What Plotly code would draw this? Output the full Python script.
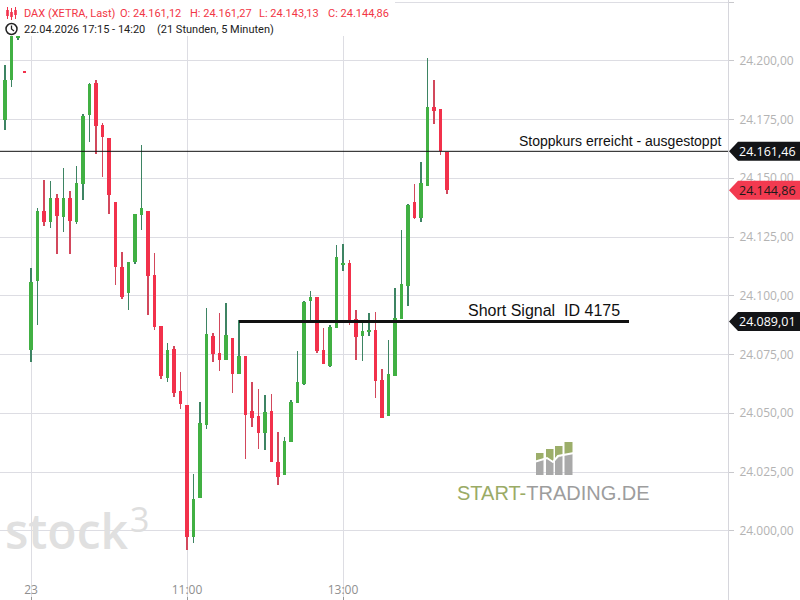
import plotly.graph_objects as go

# ---------------- data ----------------
times = ["17:15", "17:20", "17:25", "17:30"] + [
    f"{h:02d}:{m:02d}" for h in range(9, 15) for m in range(0, 60, 5)
    if (h, m) <= (14, 20)
]

opens = [24174.8, 24191.8, 24209.7, 24195.4,
         24076.9, 24106.3, 24136.1, 24131.4, 24141.6, 24133.5, 24141.6, 24131.4, 24147.6, 24176.9,
         24190.5, 24172.7, 24167.1, 24139.9, 24112.2, 24101.2, 24114.4, 24134.4, 24136.1, 24108.8,
         24087.1, 24065.0, 24077.3, 24059.5, 24053.5, 23997.3, 24013.9, 24045.0, 24082.9, 24075.6,
         24072.7, 24082.0, 24066.7, 24074.4, 24051.0, 24048.8, 24041.6, 24051.0, 24029.3, 24023.7,
         24037.8, 24054.4, 24062.5, 24097.8, 24099.5, 24076.9, 24070.1, 24086.3, 24113.3, 24113.9,
         24090.1, 24082.9, 24084.6, 24085.4, 24064.2, 24048.8, 24065.9, 24090.1, 24104.2, 24139.9,
         24133.1, 24146.7, 24180.3, 24179.5, 24161.12]
highs = [24198.2, 24218.2, 24219.9, 24195.4,
         24111.8, 24137.3, 24149.3, 24148.8, 24143.3, 24154.4, 24144.6, 24155.2, 24177.3, 24190.5,
         24191.8, 24173.5, 24167.1, 24139.9, 24118.6, 24114.4, 24134.8, 24164.2, 24136.1, 24118.2,
         24087.1, 24079.9, 24078.6, 24067.6, 24053.5, 24024.2, 24054.8, 24094.8, 24084.2, 24092.7,
         24096.9, 24082.0, 24089.7, 24074.4, 24063.3, 24060.3, 24057.8, 24058.2, 24042.0, 24039.9,
         24055.6, 24076.5, 24097.8, 24102.0, 24099.5, 24086.3, 24087.6, 24121.6, 24122.0, 24115.2,
         24093.9, 24088.4, 24092.7, 24093.1, 24068.8, 24081.2, 24103.3, 24128.0, 24139.0, 24147.6,
         24156.9, 24201.2, 24191.8, 24179.5, 24161.27]
lows = [24170.5, 24188.8, 24208.8, 24195.0,
        24071.8, 24087.6, 24129.7, 24128.8, 24117.8, 24127.1, 24117.8, 24130.5, 24140.7, 24165.4,
        24160.3, 24150.5, 24134.8, 24104.6, 24098.6, 24093.9, 24113.5, 24128.0, 24091.8, 24085.4,
        24064.6, 24063.3, 24056.9, 24051.8, 23991.8, 23994.8, 24013.9, 24043.3, 24071.8, 24068.0,
        24072.7, 24058.6, 24066.7, 24030.5, 24044.2, 24034.8, 24034.4, 24029.3, 24019.5, 24023.7,
        24037.8, 24054.4, 24062.0, 24089.7, 24075.6, 24071.0, 24069.7, 24086.3, 24110.5, 24087.6,
        24072.7, 24072.2, 24082.9, 24056.5, 24048.0, 24048.8, 24065.9, 24090.1, 24095.6, 24132.7,
        24131.4, 24146.7, 24173.1, 24159.9, 24143.13]
closes = [24191.8, 24215.2, 24216.5, 24195.0,
          24105.9, 24136.1, 24131.4, 24141.6, 24133.9, 24141.6, 24131.8, 24148.0, 24176.5, 24190.1,
          24172.2, 24167.6, 24142.9, 24112.2, 24099.5, 24114.4, 24134.8, 24137.3, 24108.4, 24086.7,
          24065.9, 24076.9, 24058.6, 24053.9, 23997.3, 24013.5, 24045.9, 24083.7, 24075.2, 24072.7,
          24083.3, 24066.7, 24074.4, 24049.3, 24048.0, 24041.6, 24050.5, 24029.3, 24022.9, 24038.2,
          24054.8, 24063.3, 24097.3, 24099.5, 24076.5, 24071.0, 24086.7, 24116.5, 24113.7, 24089.7,
          24082.5, 24085.0, 24085.4, 24063.7, 24048.0, 24066.7, 24090.5, 24105.0, 24138.6, 24133.1,
          24148.0, 24180.3, 24178.6, 24161.6, 24144.86]

tick_times = ["09:00", "11:00", "13:00"]
tick_text = ["23", "11:00", "13:00"]

stop_price = 24161.46
stop_text = "Stoppkurs erreicht - ausgestoppt"
signal_price = 24089.01
signal_start = "11:40"
signal_end = "16:40"   # beyond last bar (future slots)
signal_text = "Short Signal\u00a0 ID 4175"
last_price = 24144.86

header_items = ["DAX (XETRA, Last)", "O: 24.161,12", "H: 24.161,27", "L: 24.143,13", "C: 24.144,86"]
header_line2 = ["22.04.2026 17:15 - 14:20", "(21 Stunden, 5 Minuten)"]

# ---------------- styling ----------------
GREEN = "#41b043"
RED = "#f2314b"
GREEN_WICK = "#3d8463"
RED_WICK = "#d2485c"
GRID = "#dddde3"

PW, PH = 728, 600


def X(p):
    return p / PW


def Y(p):
    return 1 - p / PH


n = len(times)
xi = list(range(n))


def slot(t):
    if t in times:
        return times.index(t)
    h, m = map(int, t.split(":"))
    return times.index("14:20") + ((h * 60 + m) - (14 * 60 + 20)) // 5


up = [i for i in xi if closes[i] >= opens[i]]
dn = [i for i in xi if closes[i] < opens[i]]

fig = go.Figure()


def add_wicks(sel, color):
    fig.add_trace(go.Bar(
        x=sel, base=[lows[i] for i in sel], y=[highs[i] - lows[i] for i in sel],
        width=0.16, marker=dict(color=color, line=dict(width=0)), hoverinfo="skip"))


def add_bodies(sel, color):
    fig.add_trace(go.Bar(
        x=sel, base=[min(opens[i], closes[i]) for i in sel],
        y=[max(abs(closes[i] - opens[i]), 0.45) for i in sel],
        width=0.6, marker=dict(color=color, line=dict(width=0)), hoverinfo="skip"))


add_wicks(up, GREEN_WICK)
add_wicks(dn, RED_WICK)
add_bodies(up, GREEN)
add_bodies(dn, RED)

shapes = []
annotations = []

# stop line & signal line
shapes.append(dict(type="line", xref="paper", yref="y", x0=0, x1=1, y0=stop_price, y1=stop_price,
                   line=dict(color="#111111", width=1), layer="above"))
shapes.append(dict(type="line", xref="x", yref="y", x0=slot(signal_start), x1=slot(signal_end),
                   y0=signal_price, y1=signal_price, line=dict(color="#111111", width=3), layer="above"))
annotations.append(dict(xref="paper", yref="y", x=X(723), y=stop_price, text=stop_text, showarrow=False,
                        xanchor="right", yanchor="bottom", yshift=0,
                        font=dict(family="Liberation Sans", size=14, color="#111111")))
annotations.append(dict(xref="paper", yref="y", x=X(622), y=signal_price, text=signal_text, showarrow=False,
                        xanchor="right", yanchor="bottom", yshift=1,
                        font=dict(family="Liberation Sans", size=16, color="#111111")))

# price labels on right axis
half = 9.5 / 2.35


def price_label(price, fill, tcolor):
    tip, left, right = X(729), X(738), X(800)
    path = (f"M {tip},{price} L {left},{price + half} L {right},{price + half} "
            f"L {right},{price - half} L {left},{price - half} Z")
    shapes.append(dict(type="path", xref="paper", yref="y", path=path, fillcolor=fill,
                       line=dict(width=0), layer="above"))
    txt = f"{price:,.2f}".replace(",", "X").replace(".", ",").replace("X", ".")
    annotations.append(dict(xref="paper", yref="y", x=X(767), y=price, text=txt, showarrow=False,
                            xanchor="center", yanchor="middle",
                            font=dict(family="Open Sans", size=12.5, color=tcolor)))


price_label(stop_price, "#131417", "#ffffff")
price_label(last_price, "#f23a50", "#1a1a1a")
price_label(signal_price, "#131417", "#ffffff")

# header background
shapes.append(dict(type="rect", xref="paper", yref="paper", x0=0, x1=X(395), y0=Y(36), y1=Y(-2),
                   fillcolor="#ffffff", line=dict(width=0), layer="above"))
# candle icon
for cx, wt, wb, bt, bb in [(7.5, 7, 19, 10, 16), (11.5, 8, 20, 12, 17), (15.5, 7, 19, 10, 15)]:
    shapes.append(dict(type="line", xref="paper", yref="paper", x0=X(cx), x1=X(cx), y0=Y(wt), y1=Y(wb),
                       line=dict(color=RED, width=1), layer="above"))
    shapes.append(dict(type="rect", xref="paper", yref="paper", x0=X(cx - 1.3), x1=X(cx + 1.3),
                       y0=Y(bt), y1=Y(bb), fillcolor=RED, line=dict(width=0), layer="above"))
# clock icon
shapes.append(dict(type="circle", xref="paper", yref="paper", x0=X(6), x1=X(17), y0=Y(23.5), y1=Y(34.5),
                   line=dict(color="#222222", width=1.5), layer="above"))
shapes.append(dict(type="path", xref="paper", yref="paper",
                   path=f"M {X(11.5)},{Y(25.5)} L {X(11.5)},{Y(29)} L {X(14)},{Y(31)}",
                   line=dict(color="#222222", width=1.3), layer="above"))

hx = [23, 119, 189, 258, 327]
for t, x0 in zip(header_items, hx):
    annotations.append(dict(xref="paper", yref="paper", x=X(x0), y=Y(13.5), text=t, showarrow=False,
                            xanchor="left", yanchor="middle", xshift=-1,
                            font=dict(family="Roboto", size=11, color="#f23645")))
for t, x0 in zip(header_line2, [23, 156]):
    annotations.append(dict(xref="paper", yref="paper", x=X(x0), y=Y(29), text=t, showarrow=False,
                            xanchor="left", yanchor="middle", xshift=-1,
                            font=dict(family="Roboto", size=11, color="#222222")))

# stock3 watermark
annotations.append(dict(xref="paper", yref="paper", x=X(3), y=Y(530), text="stock", showarrow=False,
                        xanchor="left", yanchor="middle",
                        font=dict(family="Open Sans", size=48, color="#e0e0e0", weight=600)))
annotations.append(dict(xref="paper", yref="paper", x=X(128), y=Y(519), text="3", showarrow=False,
                        xanchor="left", yanchor="middle",
                        font=dict(family="Open Sans", size=34, color="#dedede", weight=400)))

# START-TRADING.DE logo
zig = [(534, 462), (547, 458), (553, 462), (558, 456), (574, 453)]


def zy(x):
    for (x0, y0), (x1, y1) in zip(zig[:-1], zig[1:]):
        if x0 <= x <= x1:
            return y0 + (y1 - y0) * (x - x0) / (x1 - x0)
    return zig[-1][1]


for bx0, bx1, top in [(536, 543.5, 453), (546, 553.5, 449), (555, 562.5, 446), (564.5, 572.5, 442)]:
    bot = 475
    y0l, y1l = zy(bx0), zy(bx1)
    shapes.append(dict(type="path", xref="paper", yref="paper", layer="above", line=dict(width=0),
                       fillcolor="#9cae6a",
                       path=f"M {X(bx0)},{Y(top)} L {X(bx1)},{Y(top)} L {X(bx1)},{Y(y1l)} L {X(bx0)},{Y(y0l)} Z"))
    shapes.append(dict(type="path", xref="paper", yref="paper", layer="above", line=dict(width=0),
                       fillcolor="#a9a9a9",
                       path=f"M {X(bx0)},{Y(y0l)} L {X(bx1)},{Y(y1l)} L {X(bx1)},{Y(bot)} L {X(bx0)},{Y(bot)} Z"))
zpath = "M " + " L ".join(f"{X(a)},{Y(b)}" for a, b in zig)
shapes.append(dict(type="path", xref="paper", yref="paper", path=zpath, layer="above",
                   line=dict(color="#ffffff", width=2)))
annotations.append(dict(xref="paper", yref="paper", x=X(455), y=Y(493),
                        text="<span style='color:#9aab66'>START-</span>TRADING.DE", showarrow=False,
                        xanchor="left", yanchor="middle",
                        font=dict(family="Liberation Sans", size=20, color="#9d9d9d")))

# ---------------- layout ----------------
fig.update_layout(
    width=800, height=600,
    margin=dict(l=0, r=72, t=0, b=0),
    paper_bgcolor="#ffffff", plot_bgcolor="#ffffff",
    barmode="overlay", bargap=0, showlegend=False,
    separators=",.",
    font=dict(family="Open Sans", color="#999999"),
    shapes=shapes, annotations=annotations,
    xaxis=dict(
        range=[-0.77, 111.23], showgrid=True, gridcolor=GRID, gridwidth=1, zeroline=False,
        tickvals=[slot(t) for t in tick_times], ticktext=tick_text,
        ticks="inside", ticklen=3, tickcolor="#9a9a9a", ticklabelposition="inside",
        tickfont=dict(family="Open Sans", size=12, color="#8f8f8f"), showline=False,
        fixedrange=True,
    ),
    yaxis=dict(
        side="right", range=[24225 - 598 / 2.35, 24225 + 2 / 2.35], dtick=25, tick0=0,
        tickformat=",.2f", showgrid=True, gridcolor=GRID, gridwidth=1, zeroline=False,
        ticks="outside", ticklen=5, tickcolor="#c8c8cc", showline=True, linecolor="#d6d6dc",
        tickfont=dict(family="Open Sans", size=12, color="#b3b3b3"), ticklabelstandoff=3,
        fixedrange=True,
    ),
)

fig.write_html("out.html", config={"displayModeBar": False, "staticPlot": True},
               post_script="document.body.style.margin='0px';document.body.style.overflow='hidden';")
